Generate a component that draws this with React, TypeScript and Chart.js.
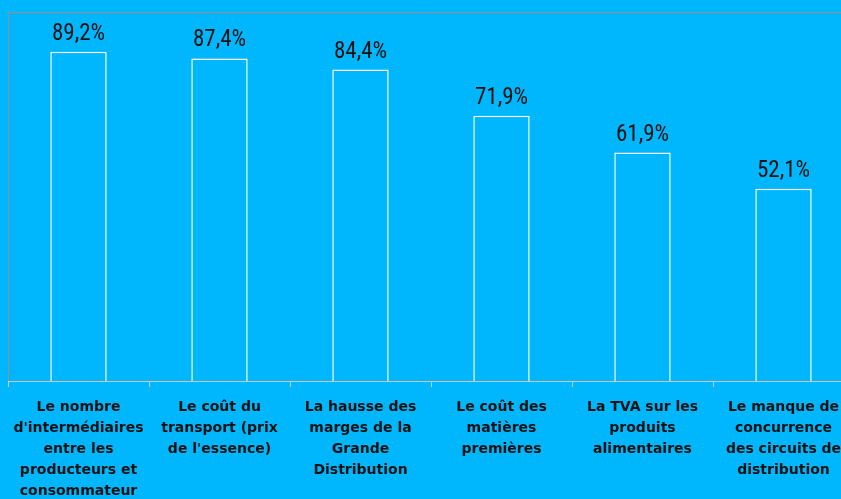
import React, { useEffect, useRef } from "react";
import { Chart, registerables } from "chart.js";

Chart.register(...registerables);

const categories: string[][] = [
  ["Le nombre", "d'intermédiaires", "entre les", "producteurs et", "consommateur"],
  ["Le coût du", "transport (prix", "de l'essence)"],
  ["La hausse des", "marges de la", "Grande", "Distribution"],
  ["Le coût des", "matières", "premières"],
  ["La TVA sur les", "produits", "alimentaires"],
  ["Le manque de", "concurrence", "des circuits de", "distribution"],
];
const values: number[] = [89.2, 87.4, 84.4, 71.9, 61.9, 52.1];
const valueLabels: string[] = ["89,2%", "87,4%", "84,4%", "71,9%", "61,9%", "52,1%"];

const BG = "#00B7FE";

const framePlugin = {
  id: "frame",
  afterDraw(chart: any) {
    const { ctx, chartArea } = chart;
    ctx.save();
    ctx.strokeStyle = "#A08C86";
    ctx.lineWidth = 1;
    ctx.beginPath();
    ctx.moveTo(chartArea.left + 0.5, chartArea.bottom);
    ctx.lineTo(chartArea.left + 0.5, chartArea.top + 0.5);
    ctx.lineTo(chartArea.right, chartArea.top + 0.5);
    ctx.stroke();
    ctx.restore();
  },
};

const valueLabelPlugin = {
  id: "valueLabels",
  afterDatasetsDraw(chart: any) {
    const { ctx } = chart;
    const meta = chart.getDatasetMeta(0);
    ctx.save();
    ctx.fillStyle = "#111111";
    ctx.font = "23px 'Liberation Sans Narrow', 'Arial Narrow', 'Roboto Condensed', sans-serif";
    ctx.textAlign = "center";
    ctx.textBaseline = "alphabetic";
    meta.data.forEach((bar: any, i: number) => {
      ctx.fillText(valueLabels[i], bar.x, bar.y - 12);
    });
    ctx.restore();
  },
};

export default function App() {
  const ref = useRef<HTMLCanvasElement>(null);
  useEffect(() => {
    if (!ref.current) return;
    const chart = new Chart(ref.current, {
      type: "bar",
      data: {
        labels: categories,
        datasets: [
          {
            data: values,
            backgroundColor: BG,
            borderColor: "#FFFFFF",
            borderWidth: 1.5,
            barPercentage: 0.4,
            categoryPercentage: 1,
          },
        ],
      },
      options: {
        responsive: false,
        animation: false,
        layout: { padding: { left: 8, top: 12, right: 0, bottom: 0 } },
        plugins: { legend: { display: false }, tooltip: { enabled: false } },
        scales: {
          x: {
            grid: {
              display: true,
              drawOnChartArea: false,
              drawTicks: true,
              tickLength: 6,
              color: "#C8C8C8",
              offset: true,
            },
            border: { display: true, color: "#C8C8C8", width: 1 },
            ticks: {
              color: "#111111",
              padding: 10,
              maxRotation: 0,
              autoSkip: false,
              font: { family: "'DejaVu Sans', sans-serif", size: 14, weight: "bold", lineHeight: "21px" },
            },
            afterFit: (scale: any) => {
              scale.height = 118;
            },
          },
          y: { display: false, min: 0, max: 100 },
        },
      },
      plugins: [framePlugin, valueLabelPlugin],
    });
    return () => chart.destroy();
  }, []);
  return (
    <div
      style={{
        position: "fixed",
        left: 0,
        top: 0,
        width: 841,
        height: 499,
        background: BG,
        overflow: "hidden",
      }}
    >
      <canvas ref={ref} width={854} height={499} style={{ position: "absolute", left: 0, top: 0, width: 854, height: 499 }} />
    </div>
  );
}
